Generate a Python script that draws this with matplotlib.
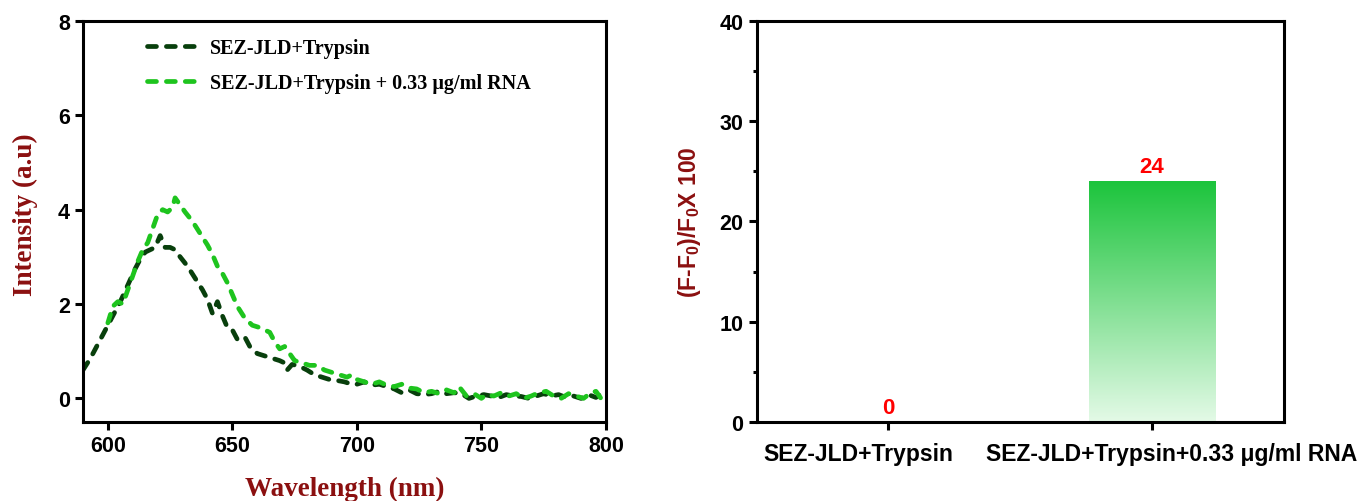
import matplotlib.pyplot as plt
import numpy as np
from matplotlib.colors import LinearSegmentedColormap

DPI = 100
FIG_SIZE = (13.69, 5.02)

DARK_RED = "#8b1010"
DARK_GREEN = "#083f0c"
LIGHT_GREEN = "#1ec41e"

# spectrum data
wl_trypsin = [
    590, 593, 596, 599, 602, 605, 608, 611, 613, 615, 617, 619, 621, 623,
    625, 627, 629, 632, 635, 638, 640, 642, 644, 646, 648, 650, 652, 655,
    657, 660, 663, 666, 669, 671, 672, 674, 677, 680, 683, 686, 689, 692,
    695, 698, 700, 703, 706, 709, 712, 715, 718, 721, 724, 727, 730, 733,
    736, 739, 742, 745, 748, 751, 754, 757, 760, 763, 766, 769, 772, 775,
    778, 781, 784, 787, 790, 793, 796, 798, 800,
]
int_trypsin = [
    0.6, 0.85, 1.15, 1.45, 1.75, 2.05, 2.4, 2.75, 2.95, 3.1, 3.15, 3.2, 3.45, 3.2,
    3.2, 3.15, 3.0, 2.8, 2.55, 2.3, 2.1, 1.8, 2.05, 1.75, 1.5, 1.45, 1.25, 1.3,
    1.1, 0.95, 0.9, 0.85, 0.8, 0.75, 0.6, 0.72, 0.68, 0.6, 0.5, 0.45, 0.4, 0.38,
    0.35, 0.3, 0.3, 0.35, 0.28, 0.3, 0.25, 0.2, 0.12, 0.18, 0.1, 0.08, 0.1, 0.15,
    0.1, 0.12, 0.1, 0.0, 0.05, 0.08, 0.05, 0.02, 0.08, 0.05, 0.04, 0.0, 0.05, 0.1,
    0.05, 0.08, 0.02, 0.05, 0.0, 0.08, 0.02, 0.1, 0.05,
]

wl_rna = [
    600, 602, 604, 606, 608, 610, 612, 614, 616, 618, 620, 622, 624, 626,
    627, 629, 631, 634, 637, 640, 642, 644, 646, 648, 650, 652, 655, 658,
    661, 663, 665, 667, 669, 671, 673, 675, 678, 681, 684, 687, 690, 693,
    696, 698, 700, 703, 706, 709, 712, 715, 718, 721, 724, 727, 730, 733,
    736, 739, 741, 744, 747, 750, 752, 755, 758, 761, 764, 767, 770, 773,
    776, 779, 782, 785, 788, 791, 794, 796, 798, 800,
]
int_rna = [
    1.6, 1.95, 2.05, 2.0, 2.3, 2.6, 2.9, 3.15, 3.3, 3.6, 3.9, 4.0, 3.95, 4.05,
    4.25, 4.1, 3.95, 3.75, 3.5, 3.25, 3.05, 2.8, 2.65, 2.45, 2.2, 1.95, 1.7, 1.55,
    1.5, 1.45, 1.4, 1.2, 1.05, 1.1, 0.95, 0.8, 0.75, 0.7, 0.7, 0.6, 0.55, 0.5,
    0.45, 0.5, 0.4, 0.35, 0.3, 0.35, 0.28, 0.25, 0.3, 0.22, 0.2, 0.12, 0.15, 0.1,
    0.18, 0.12, 0.25, 0.05, 0.1, 0.0, 0.08, 0.05, 0.12, 0.05, 0.1, 0.0, 0.05, 0.12,
    0.15, 0.05, 0.0, 0.1, 0.05, 0.0, 0.12, 0.15, 0.0, 0.05,
]

# bar chart data
categories = ["SEZ-JLD+Trypsin", "SEZ-JLD+Trypsin+0.33 \u03bcg/ml RNA"]
changes = [0, 24]

fig = plt.figure(figsize=FIG_SIZE, dpi=DPI)

# ---- left: spectra ----
ax1 = fig.add_axes([0.0606, 0.1574, 0.382, 0.799])
line_kw = dict(linewidth=3.4, linestyle=(0, (1.9, 2.1)), dash_capstyle="round")
ax1.plot(wl_trypsin, int_trypsin, color=DARK_GREEN, label="SEZ-JLD+Trypsin", **line_kw)
ax1.plot(wl_rna, int_rna, color=LIGHT_GREEN,
         label="SEZ-JLD+Trypsin + 0.33 \u03bcg/ml RNA", **line_kw)
ax1.set_xlim(590, 800)
ax1.set_ylim(-0.5, 8)
ax1.set_xticks([600, 650, 700, 750, 800])
ax1.set_yticks([0, 2, 4, 6, 8])
ax1.set_xlabel("Wavelength (nm)", family="Liberation Serif", fontweight="bold",
               fontsize=19.5, color=DARK_RED, labelpad=14)
ax1.set_ylabel("Intensity (a.u)", family="Liberation Serif", fontweight="bold",
               fontsize=19.5, color=DARK_RED, labelpad=14)
ax1.yaxis.set_label_coords(-0.086, 0.52)
leg = ax1.legend(loc="upper left", bbox_to_anchor=(0.088, 1.003), frameon=False,
                 handlelength=2.8, handletextpad=0.3, labelspacing=0.75,
                 prop=dict(family="Liberation Serif", weight="bold", size=14.5))

# ---- right: bars ----
ax2 = fig.add_axes([0.5526, 0.1574, 0.3853, 0.799])
x = np.arange(1, len(categories) + 1)
cmap = LinearSegmentedColormap.from_list("grn", ["#e4fae7", "#1cc43c"])
bars = ax2.bar(x, changes, width=0.48, color="none", edgecolor="none")
for rect, val in zip(bars, changes):
    if val > 0:
        x0, w, h = rect.get_x(), rect.get_width(), rect.get_height()
        grad = np.linspace(0, 1, 256).reshape(-1, 1)
        im = ax2.imshow(grad, cmap=cmap, origin="lower", aspect="auto",
                        extent=[x0, x0 + w, 0, h], zorder=1)
        im.set_clip_path(rect)
    ax2.text(rect.get_x() + rect.get_width() / 2, val + 0.4, f"{val}",
             ha="center", va="bottom", color="red", fontsize=16,
             fontweight="bold", family="Liberation Sans")
ax2.set_xlim(0.5, 2.5)
ax2.set_ylim(0, 40)
ax2.set_xticks(x)
ax2.set_xticklabels([])
ax2.set_yticks([0, 10, 20, 30, 40])
ax2.set_yticks([5, 15, 25, 35], minor=True)
ax2.set_ylabel("(F-F$_\\mathregular{0}$)/F$_\\mathregular{0}$X 100",
               family="Liberation Sans", fontweight="bold", fontsize=16.5,
               color=DARK_RED, labelpad=12)

# category labels sit a little off their ticks in the original
for xi, cat, dx in zip(x, categories, [-21.6, 14.4]):
    ax2.annotate(cat, xy=(xi, 0), xycoords=("data", "axes fraction"),
                 xytext=(dx, -14.4), textcoords="offset points",
                 ha="center", va="top", fontsize=16.5, fontweight="bold",
                 family="Liberation Sans")

for ax in (ax1, ax2):
    for s in ax.spines.values():
        s.set_linewidth(2.2)
    ax.tick_params(direction="out", width=2.2, length=6, labelsize=15.5)
    ax.tick_params(which="minor", direction="out", width=2.2, length=3)
    for lbl in ax.get_xticklabels() + ax.get_yticklabels():
        lbl.set_fontweight("bold")
        lbl.set_family("Liberation Sans")

fig.savefig("out.png", dpi=DPI)
